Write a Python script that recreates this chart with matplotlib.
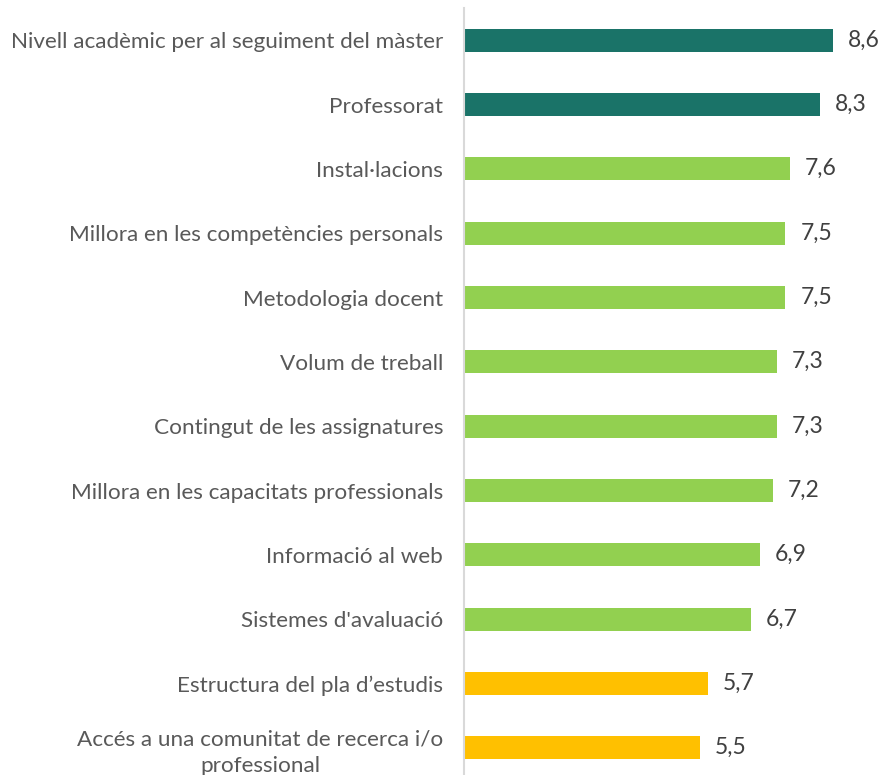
import matplotlib
matplotlib.use("Agg")
import matplotlib.pyplot as plt

categories = [
    "Nivell acadèmic per al seguiment del màster",
    "Professorat",
    "Instal·lacions",
    "Millora en les competències personals",
    "Metodologia docent",
    "Volum de treball",
    "Contingut de les assignatures",
    "Millora en les capacitats professionals",
    "Informació al web",
    "Sistemes d'avaluació",
    "Estructura del pla d’estudis",
    "Accés a una comunitat de recerca i/o\nprofessional",
]
values = [8.6, 8.3, 7.6, 7.5, 7.5, 7.3, 7.3, 7.2, 6.9, 6.7, 5.7, 5.5]
groups = ["high", "high", "mid", "mid", "mid", "mid", "mid", "mid", "mid", "mid", "low", "low"]
group_colors = {"high": "#1A7368", "mid": "#92D050", "low": "#FFC000"}

plt.rcParams["font.family"] = ["Lato", "DejaVu Sans"]

W, H = 881, 775
fig = plt.figure(figsize=(W / 100, H / 100), dpi=100)
left_px, top_px, bottom_px = 464, 8, 780
ax = fig.add_axes([left_px / W, (H - bottom_px) / H, 1 - left_px / W, (bottom_px - top_px) / H])

y = list(range(len(categories)))
colors = [group_colors[g] for g in groups]
ax.barh(y, values, height=0.36, color=colors, zorder=2)
ax.set_ylim(len(categories) - 0.5, -0.5)
ax.set_xlim(0, (W - left_px) / 42.85)

ax.set_yticks(y)
ax.set_yticklabels(categories, fontsize=16.2, color="#595959", linespacing=1.4)
for lab in ax.get_yticklabels():
    lab.set_multialignment("center")
ax.tick_params(axis="y", length=0, pad=15)
ax.set_xticks([])
for s in ["top", "right", "bottom"]:
    ax.spines[s].set_visible(False)
ax.spines["left"].set_color("#D9D9D9")
ax.spines["left"].set_linewidth(1.5)

for yi, v in zip(y, values):
    ax.annotate(f"{v:.1f}".replace(".", ","), (v, yi), xytext=(15, 0),
                textcoords="offset pixels",
                va="center", ha="left", fontsize=16.5, color="#404040")

fig.savefig("out.png", dpi=100)
